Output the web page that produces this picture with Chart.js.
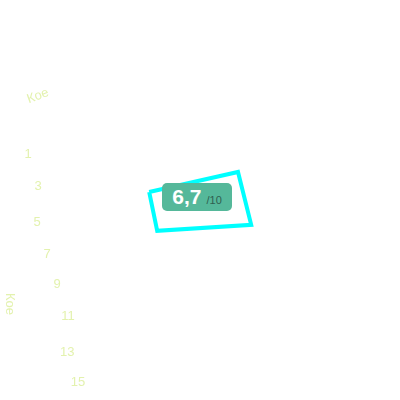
<!DOCTYPE html>
<html>
<head>
<meta charset="utf-8">
<script src="https://cdn.jsdelivr.net/npm/chart.js@4.4.0/dist/chart.umd.min.js"></script>
<style>
    body { margin: 0; background: #fff; }
    #wrap { position: relative; width: 400px; height: 400px; }
    #score {
        position: absolute; left: 162px; top: 183px; width: 70px; height: 28px;
        background: #55b89a; border-radius: 5px; color: #fff;
        font-family: 'Liberation Sans', Arial, sans-serif;
        display: flex; align-items: baseline; justify-content: center; line-height: 28px;
    }
    #score b { font-size: 21px; }
    #score span { font-size: 11px; color: #2f5f50; margin-left: 5px; }
</style>
</head>
<body>
<div id="wrap">
    <canvas id="chart"></canvas>
    <div id="score"><b>6,7</b><span>/10</span></div>
</div>
<script>
// shape corners (x, y on a 0..10 grid)
const shapeX = [3.73, 5.95, 6.28, 3.93, 3.73]
const shapeY = [5.20, 5.70, 4.38, 4.23, 5.20]

// faint labels down the left side
const tickLabels = ['1', '3', '5', '7', '9', '11', '13', '15']
const tickX = [0.70, 0.95, 0.93, 1.18, 1.43, 1.70, 1.68, 1.95]
const tickY = [6.13, 5.33, 4.43, 3.65, 2.88, 2.10, 1.20, 0.43]

const titleLabels = ['Кое', 'Кое']
const titleX = [0.95, 0.25]
const titleY = [7.60, 2.40]

const faint = '#e3f2ae'

function toPoints(xs, ys) {
    return xs.map(function(x, i) { return {x: x, y: ys[i]} })
}

// draws dataset.labels text at each point
const textPlugin = {
    id: 'textPoints',
    afterDatasetsDraw: function(chart) {
        const ctx = chart.ctx
        chart.data.datasets.forEach(function(ds, i) {
            if (!ds.labels) return
            const meta = chart.getDatasetMeta(i)
            meta.data.forEach(function(pt, j) {
                ctx.save()
                ctx.translate(pt.x, pt.y)
                ctx.rotate((ds.textRotation ? ds.textRotation[j] : 0) * Math.PI / 180)
                ctx.fillStyle = faint
                ctx.font = '13px "Liberation Sans", Arial, sans-serif'
                ctx.textAlign = 'center'
                ctx.textBaseline = 'middle'
                ctx.fillText(ds.labels[j], 0, 0)
                ctx.restore()
            })
        })
    }
}

new Chart(document.getElementById('chart'), {
    type: 'scatter',
    data: {
        datasets: [{
            data: toPoints(shapeX, shapeY),
            showLine: true,
            borderColor: '#00ffff',
            borderWidth: 4,
            pointRadius: 0,
            fill: false
        }, {
            data: toPoints(tickX, tickY),
            labels: tickLabels,
            pointRadius: 0
        }, {
            data: toPoints(titleX, titleY),
            labels: titleLabels,
            textRotation: [-20, 90],
            pointRadius: 0
        }]
    },
    options: {
        responsive: true,
        maintainAspectRatio: false,
        animation: false,
        layout: {padding: 0},
        plugins: {legend: {display: false}, tooltip: {enabled: false}},
        scales: {
            x: {display: false, min: 0, max: 10},
            y: {display: false, min: 0, max: 10}
        }
    },
    plugins: [textPlugin]
})
</script>
</body>
</html>
